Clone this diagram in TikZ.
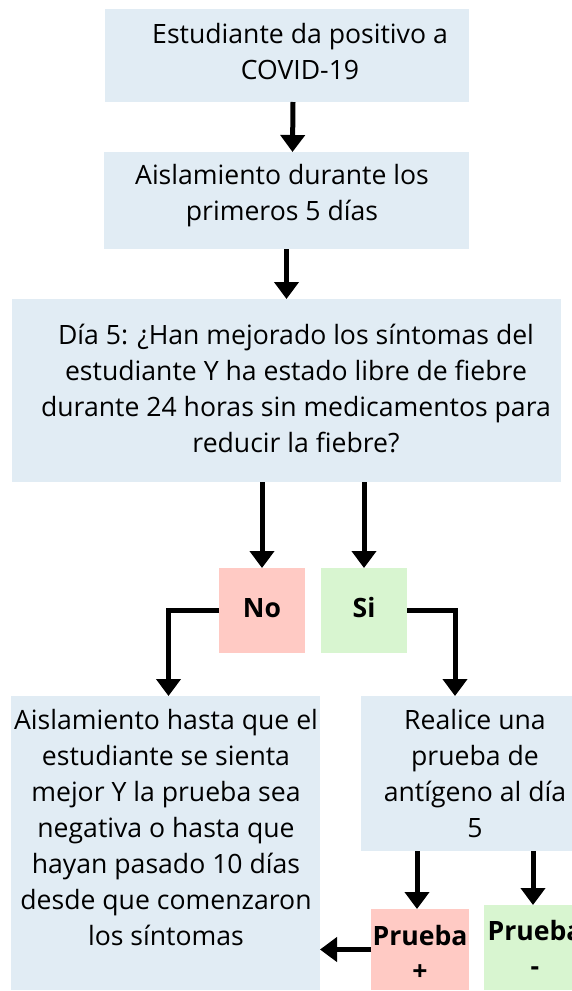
\documentclass[tikz,border=0pt]{standalone}
\usepackage{fontspec}
\setmainfont{Open Sans}
\usetikzlibrary{arrows.meta,calc}
\definecolor{bluebg}{HTML}{E1ECF4}
\definecolor{pinkbg}{HTML}{FFCAC4}
\definecolor{greenbg}{HTML}{D8F5D0}
\begin{document}
\begin{tikzpicture}[x=1pt,y=-1pt,
  box/.style={fill=bluebg, inner sep=0pt, outer sep=0pt},
  txt/.style={align=center, inner sep=0pt, font=\fontsize{26.6}{36}\selectfont},
  btxt/.style={align=center, inner sep=0pt, font=\fontsize{26.6}{35}\selectfont\bfseries},
  arr/.style={line width=5pt, -{Triangle[width=24pt,length=17pt]}}]
\useasboundingbox (0,0) rectangle (571,991);
% boxes
\node[box, minimum width=364pt, minimum height=93pt] (b1) at (287,55.5) {};
\node[box, minimum width=365pt, minimum height=97pt] (b2) at (286.5,200.5) {};
\node[box, minimum width=549pt, minimum height=183pt] (b3) at (286.5,390.5) {};
\node[box, fill=pinkbg, minimum width=86pt, minimum height=85pt] (no) at (262,610.5) {};
\node[box, fill=greenbg, minimum width=86pt, minimum height=85pt] (si) at (364,610.5) {};
\node[box, minimum width=309pt, minimum height=294pt] (left) at (165.5,843) {};
\node[box, minimum width=220pt, minimum height=155pt] (right) at (471,773.5) {};
\node[box, fill=pinkbg, minimum width=98pt, minimum height=81pt] (pp) at (420,949.5) {};
\node[box, fill=greenbg, minimum width=102pt, minimum height=85pt] (pm) at (535,947.5) {};
% texts
\node[txt] (t1) at (300,52) {Estudiante da positivo a\\COVID-19};
\node[txt] (t2) at (282,196) {Aislamiento durante los\\primeros 5 días};
\node[txt] (t3) at (296,388) {Día 5: ¿Han mejorado los síntomas del\\estudiante Y ha estado libre de fiebre\\durante 24 horas sin medicamentos para\\reducir la fiebre?};
\node[btxt] (tno) at (262,608) {No};
\node[btxt] (tsi) at (364,608) {Si};
\node[txt] (tl) at (166,828) {Aislamiento hasta que el\\estudiante se sienta\\mejor Y la prueba sea\\negativa o hasta que\\hayan pasado 10 días\\desde que comenzaron\\los síntomas};
\node[txt] (tr) at (475,774) {Realice una\\prueba de\\antígeno al día\\5};
\node[btxt] (tpp) at (420,953) {Prueba\\+};
\node[btxt] (tpm) at (535,948) {Prueba\\-};
% arrows
\draw[arr] ($(b1.south)+(6,0)$) -- ($(b2.north)+(6,0)$);
\draw[arr] (b2.south) -- (b3.north);
\draw[arr] (b3.south -| no.north) -- (no.north);
\draw[arr] (b3.south -| si.north) -- (si.north);
\draw[arr] (no.west) -| ($(left.north)+(3,0)$);
\draw[arr] (si.east) -| ($(right.north)+(-16,0)$);
\draw[arr] ($(right.south -| pp.north)+(-3,0)$) -- ($(pp.north)+(-3,0)$);
\draw[arr] ($(right.south -| pm.north)+(-2,0)$) -- ($(pm.north)+(-2,0)$);
\draw[arr] (pp.west) -- (pp.west -| left.east);
\end{tikzpicture}
\end{document}
